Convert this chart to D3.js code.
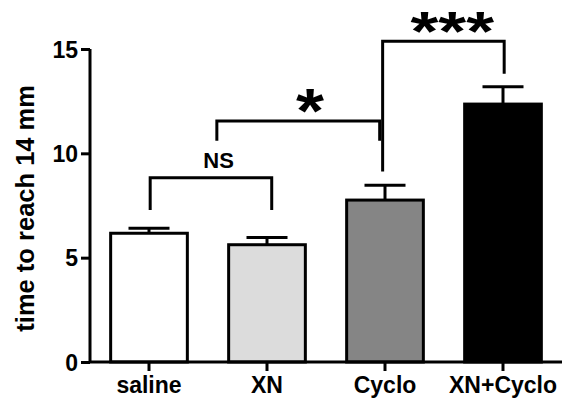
<!DOCTYPE html>
<html>
<head>
<meta charset="utf-8">
<script src="https://cdn.jsdelivr.net/npm/d3@7"></script>
<style>
  html, body { margin: 0; padding: 0; background: #fff; }
  svg { display: block; }
  text { font-family: "Liberation Sans", Arial, Helvetica, sans-serif; font-weight: bold; fill: #000; }
</style>
</head>
<body>
<svg id="chart" width="566" height="400"></svg>
<script>
// ---- data ----
const categories = ["saline", "XN", "Cyclo", "XN+Cyclo"];
const means = [6.17, 5.62, 7.76, 12.36];
const sems = [0.24, 0.35, 0.71, 0.83];
const fills = ["#ffffff", "#dcdcdc", "#858585", "#000000"];
const yTicks = [0, 5, 10, 15];
const yLabel = "time to reach 14 mm";
// brackets: positions in category-index units, heights in data units
const brackets = [
  { x1: 0.01, x2: 1.04, y: 8.83, leg1: 7.28, leg2: 7.28, label: "NS", lx: 0.59, ly: 9.3, size: 22, sx: 1 },
  { x1: 0.575, x2: 1.955, y: 11.55, leg1: 10.6, leg2: 10.6, label: "*", lx: 1.365, ly: 11.0, size: 62, sx: 1.16 },
  { x1: 1.98, x2: 3.01, y: 15.37, leg1: 9.13, leg2: 13.81, label: "***", lx: 2.57, ly: 14.95, size: 55, sx: 1.3 }
];

// ---- layout ----
const svg = d3.select("#chart");
const mLeft = 90, mRight = 562, mTop = 49, mBottom = 362;

const x = d3.scaleBand().domain(categories).range([mLeft, mRight])
  .paddingInner(0.35).paddingOuter(0.175);
const y = d3.scaleLinear().domain([0, 15]).range([mBottom, mTop]);
const cx = i => x(categories[0]) + x.bandwidth() / 2 + i * x.step();

// bars
svg.append("g").selectAll("rect").data(categories).join("rect")
  .attr("x", d => x(d))
  .attr("width", x.bandwidth())
  .attr("y", (d, i) => y(means[i]))
  .attr("height", (d, i) => y(0) - y(means[i]))
  .attr("fill", (d, i) => fills[i])
  .attr("stroke", "#000")
  .attr("stroke-width", 3);

// error bars (upper only)
const eb = svg.append("g").attr("stroke", "#000").attr("stroke-width", 3);
categories.forEach((c, i) => {
  const xc = x(c) + x.bandwidth() / 2;
  eb.append("line").attr("x1", xc).attr("x2", xc)
    .attr("y1", y(means[i])).attr("y2", y(means[i] + sems[i]));
  eb.append("line").attr("x1", xc - 20.5).attr("x2", xc + 20.5)
    .attr("y1", y(means[i] + sems[i])).attr("y2", y(means[i] + sems[i]));
});

// y axis
const yAxis = svg.append("g").attr("transform", `translate(${mLeft},0)`)
  .call(d3.axisLeft(y).tickValues(yTicks).tickSize(9).tickPadding(3).tickFormat(d3.format("d")));
yAxis.select(".domain").attr("stroke-width", 3).attr("d", `M0,${mTop}V${mBottom}`);
yAxis.selectAll(".tick line").attr("stroke-width", 3);
yAxis.selectAll(".tick text").attr("font-size", 23).attr("dy", "0.36em");

// x axis
const xAxis = svg.append("g").attr("transform", `translate(0,${mBottom})`)
  .call(d3.axisBottom(x).tickSize(9).tickPadding(4));
xAxis.select(".domain").attr("stroke-width", 3).attr("d", `M${mLeft},0H${mRight}`);
xAxis.selectAll(".tick line").attr("stroke-width", 3);
xAxis.selectAll(".tick text").attr("font-size", 23).attr("dy", null).attr("y", 31);
svg.selectAll(".tick text").attr("fill", "#000");
svg.selectAll("g").attr("font-family", null).attr("font-size", null);

// y label
svg.append("text")
  .attr("transform", `translate(34,${(81.7 + 335) / 2}) rotate(-90)`)
  .attr("text-anchor", "middle")
  .attr("font-size", 25.5)
  .text(yLabel);

// significance brackets
const bg = svg.append("g");
brackets.forEach(b => {
  const xa = cx(b.x1), xb = cx(b.x2);
  bg.append("path")
    .attr("d", `M${xa},${y(b.leg1)}V${y(b.y)}H${xb}V${y(b.leg2)}`)
    .attr("fill", "none").attr("stroke", "#000").attr("stroke-width", 3);
  bg.append("text")
    .attr("transform", `translate(${cx(b.lx)},${y(b.ly)}) scale(${b.sx},1)`)
    .attr("text-anchor", "middle")
    .attr("font-size", b.size)
    .text(b.label);
});
</script>
</body>
</html>
